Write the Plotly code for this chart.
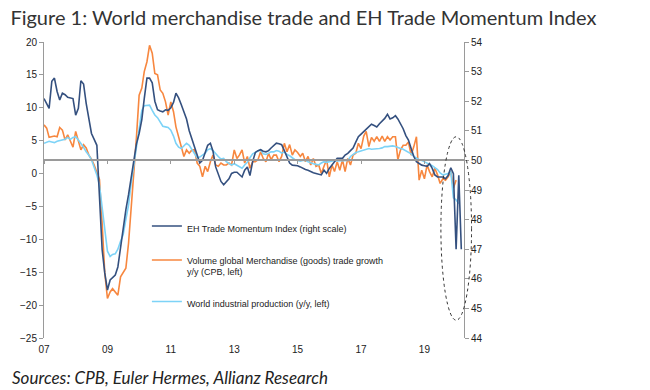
import pandas as pd
import plotly.graph_objects as go

# ---- data (monthly, from Jan 2007) ----
eh_momentum = [
    52.09, 51.89, 51.76, 52.67, 52.78, 52.33, 52.04, 52.27, 52.22, 52.13, 52.11, 52.09,
    51.53, 51.76, 52.69, 52.58, 51.93, 51.44, 50.91, 50.71, 50.51, 48.78, 46.98, 46.20,
    45.62, 45.96, 46.04, 46.13, 46.40, 47.11, 47.76, 48.33, 48.84, 49.44, 49.96, 50.56,
    50.91, 51.38, 52.09, 52.78, 52.78, 52.62, 52.00, 51.71, 51.67, 51.64, 51.71, 51.69,
    51.78, 51.96, 52.27, 52.11, 51.89, 51.60, 51.40, 51.00, 50.71, 50.44, 50.18, 49.91,
    50.00, 50.27, 50.51, 50.58, 50.31, 49.78, 49.56, 49.29, 49.18, 49.27, 49.38, 49.56,
    49.60, 49.60, 49.51, 49.44, 49.67, 49.78, 49.49, 49.96, 50.27, 50.33, 50.36, 50.31,
    50.29, 50.33, 50.42, 50.51, 50.58, 50.56, 50.53, 50.33, 50.11, 49.91, 49.84, 49.84,
    49.82, 49.78, 49.73, 49.69, 49.67, 49.62, 49.58, 49.56, 49.53, 49.51, 49.67, 49.56,
    49.73, 49.84, 49.98, 50.07, 50.07, 50.07, 50.18, 50.24, 50.33, 50.42, 50.62, 50.80,
    50.89, 50.98, 51.07, 51.13, 51.22, 51.18, 51.13, 51.24, 51.33, 51.42, 51.56, 51.40,
    51.44, 51.51, 51.40, 51.24, 51.07, 50.84, 50.69, 50.40, 50.13, 49.96, 49.89, 49.84,
    49.82, 49.80, 49.89, 49.73, 49.51, 49.44, 49.44, 49.44, 49.38, 49.49, 49.75, 49.55,
    47.00, 49.50, 47.00,
]
trade_growth = [
    7.4, 6.9, 5.5, 5.6, 5.7, 5.6, 7.0, 6.6, 5.1, 5.9, 4.9, 4.0,
    6.4, 5.1, 3.6, 4.4, 3.9, 2.8, 2.2, 1.3, 0.3, -0.9, -7.6, -15.1,
    -19.0, -18.0, -17.5, -18.0, -18.5, -15.7, -15.0, -14.4, -10.6, -5.5, -0.5, 5.5,
    11.9, 13.0, 15.5, 17.0, 19.5, 18.3, 15.2, 15.0, 12.7, 12.2, 10.9, 8.9,
    10.9, 9.4, 7.1, 5.6, 3.8, 2.6, 3.6, 3.1, 3.6, 3.6, 1.6, 1.1,
    -0.5, 1.1, 0.3, 1.8, 2.8, 1.3, 1.1, 1.6, 1.3, 1.3, 1.6, 1.3,
    3.6, 2.3, 2.8, 3.6, 1.6, 2.6, 0.8, 1.8, 1.8, 2.1, 3.3, 2.3,
    1.8, 3.1, 2.1, 2.8, 2.8, 1.8, 2.6, 4.6, 3.3, 4.4, 2.8, 3.6,
    3.2, 2.6, 3.1, 1.8, 2.6, 1.3, 2.3, 1.1, 1.3, 0.0, 1.1, 2.1,
    -0.5, 1.3, 0.3, 1.8, 0.5, 2.1, 0.3, 2.3, 1.3, 2.8, 3.1, 4.6,
    3.8, 5.7, 6.4, 4.1, 5.5, 4.9, 5.6, 4.9, 5.7, 4.9, 5.6, 5.1,
    5.6, 5.6, 2.1, 3.6, 4.3, 4.3, 4.8, 2.8, 4.1, 5.6, -1.0, 0.5,
    -0.8, 1.3, 0.3, -0.5, 0.8, -0.2, -1.5, -0.8, -1.0, -0.5, 0.3, -2.2,
    -1.0,
]
industrial_prod = [
    4.6, 4.7, 4.9, 4.8, 4.7, 4.9, 5.0, 5.1, 5.2, 5.5, 5.2, 5.5,
    5.6, 5.1, 4.6, 4.0, 3.3, 2.8, 2.1, 1.0, -0.2, -1.8, -5.0, -8.5,
    -11.8, -12.6, -12.3, -12.2, -11.5, -10.3, -9.3, -7.0, -4.8, -1.5, 1.5, 3.6,
    7.0, 9.6, 10.3, 10.4, 10.4, 9.6, 8.9, 8.5, 7.8, 7.2, 7.1, 7.0,
    6.6, 5.7, 4.6, 4.0, 3.8, 4.2, 4.6, 4.3, 3.6, 3.0, 2.4, 2.5,
    2.8, 3.1, 3.6, 3.8, 3.5, 3.0, 2.6, 2.2, 2.3, 1.8, 1.5, 1.3,
    1.5, 1.3, 1.0, 0.8, 1.3, 1.7, 2.4, 3.0, 3.2, 3.4, 3.6, 3.0,
    2.9, 3.1, 3.3, 3.3, 3.5, 3.4, 3.1, 3.3, 2.9, 2.7, 2.4, 2.1,
    2.0, 1.9, 2.0, 2.0, 1.8, 1.6, 1.5, 1.4, 1.3, 1.6, 1.8, 1.7,
    1.8, 1.9, 2.0, 1.9, 1.9, 1.9, 2.0, 2.0, 2.6, 2.9, 3.2, 3.3,
    3.4, 3.5, 3.6, 3.8, 3.7, 3.7, 3.7, 3.8, 3.9, 4.1, 4.1, 4.2,
    4.2, 4.1, 3.9, 3.8, 3.7, 3.5, 3.3, 3.0, 2.6, 2.3, 2.1, 2.0,
    1.8, 1.7, 1.5, 1.2, 0.9, 0.6, 0.1, -0.2, -0.1, 0.0, 0.3, -3.7,
    -4.0, -4.6,
]
start_month = "2007-01-01"
x_range = ["2007-01-01", "2020-04-01"]
left_range = [-25, 20]
right_range = [44, 54]
ref_level = 50  # horizontal reference line (right scale)
x_tick_vals = ["2007-01-01", "2009-01-01", "2011-01-01", "2013-01-01",
               "2015-01-01", "2017-01-01", "2019-01-01"]
x_tick_text = ["07", "09", "11", "13", "15", "17", "19"]

names = ["EH Trade Momentum Index (right scale)",
         "Volume global Merchandise (goods) trade growth<br>y/y (CPB, left)",
         "World industrial production (y/y, left)"]
colors = ["#34507F", "#F7873F", "#7DD3F7"]

def months(n):
    return pd.date_range(start_month, periods=n, freq="MS")

fig = go.Figure()
fig.add_trace(go.Scatter(x=months(len(eh_momentum)), y=eh_momentum, yaxis="y2",
                         name=names[0], mode="lines", legendgroup="a",
                         line=dict(color=colors[0], width=1.6)))
fig.add_trace(go.Scatter(x=months(len(trade_growth)), y=trade_growth,
                         name=names[1], mode="lines", legendgroup="b",
                         line=dict(color=colors[1], width=1.6)))
fig.add_trace(go.Scatter(x=months(len(industrial_prod)), y=industrial_prod,
                         name=names[2], mode="lines", legendgroup="c",
                         line=dict(color=colors[2], width=1.6)))
# helper axis for the reference line ticks
fig.add_trace(go.Scatter(x=[x_range[0]], y=[left_range[0] - 10], xaxis="x2",
                         mode="lines", showlegend=False, hoverinfo="skip"))

axis_grey = "#9A9A9A"
tick_font = dict(family="Liberation Sans, Arial, sans-serif", size=10, color="#222")
ref_pos = (ref_level - right_range[0]) / (right_range[1] - right_range[0])

fig.update_layout(
    width=650, height=390,
    margin=dict(l=44, r=186, t=42, b=52),
    paper_bgcolor="white", plot_bgcolor="white",
    title=dict(text="Figure 1: World merchandise trade and EH Trade Momentum Index",
               x=0.016, xanchor="left", xref="container",
               y=0.955, yanchor="middle", yref="container",
               font=dict(family="Lato, sans-serif", size=20, color="#333")),
    xaxis=dict(type="date", range=x_range, tickvals=x_tick_vals, ticktext=x_tick_text,
               showgrid=False, showline=False, zeroline=False, ticks="",
               tickfont=tick_font, ticklabelstandoff=4),
    xaxis2=dict(type="date", range=x_range, overlaying="x", anchor="free",
                position=ref_pos, tickvals=x_tick_vals, showticklabels=False,
                showgrid=False, zeroline=False, showline=True, linecolor=axis_grey,
                linewidth=1.5, ticks="outside", ticklen=3, tickcolor=axis_grey),
    yaxis=dict(range=left_range, dtick=5, showgrid=False, zeroline=False,
               showline=True, linecolor=axis_grey, linewidth=1,
               ticks="outside", ticklen=4, tickcolor=axis_grey, tickfont=tick_font),
    yaxis2=dict(range=right_range, dtick=1, overlaying="y", side="right",
                showgrid=False, zeroline=False, showline=True, linecolor=axis_grey,
                linewidth=1, ticks="outside", ticklen=4, tickcolor=axis_grey,
                tickfont=tick_font),
    legend=dict(x=0.245, y=0.42, xanchor="left", yanchor="top",
                bgcolor="rgba(0,0,0,0)", tracegroupgap=15, valign="top",
                font=dict(family="Liberation Sans, Arial, sans-serif", size=9, color="#222")),
    showlegend=True,
)

# dashed ellipse highlighting the latest readings
ellipse = dict(x0=0.945, x1=1.018, y0=0.06, y1=0.68)
fig.add_shape(type="circle", xref="paper", yref="paper", **ellipse,
              line=dict(color="#333", width=1, dash="dot"), layer="above")

fig.add_annotation(text="Sources: CPB, Euler Hermes, Allianz Research",
                   xref="paper", yref="paper", x=-0.082, y=-0.135,
                   xanchor="left", yanchor="middle", showarrow=False,
                   font=dict(family="Lato, sans-serif", size=17, color="#222",
                             style="italic"))

fig.write_html("out.html", config={"displayModeBar": False},
               post_script="document.body.style.margin='0';document.body.style.padding='0';")
